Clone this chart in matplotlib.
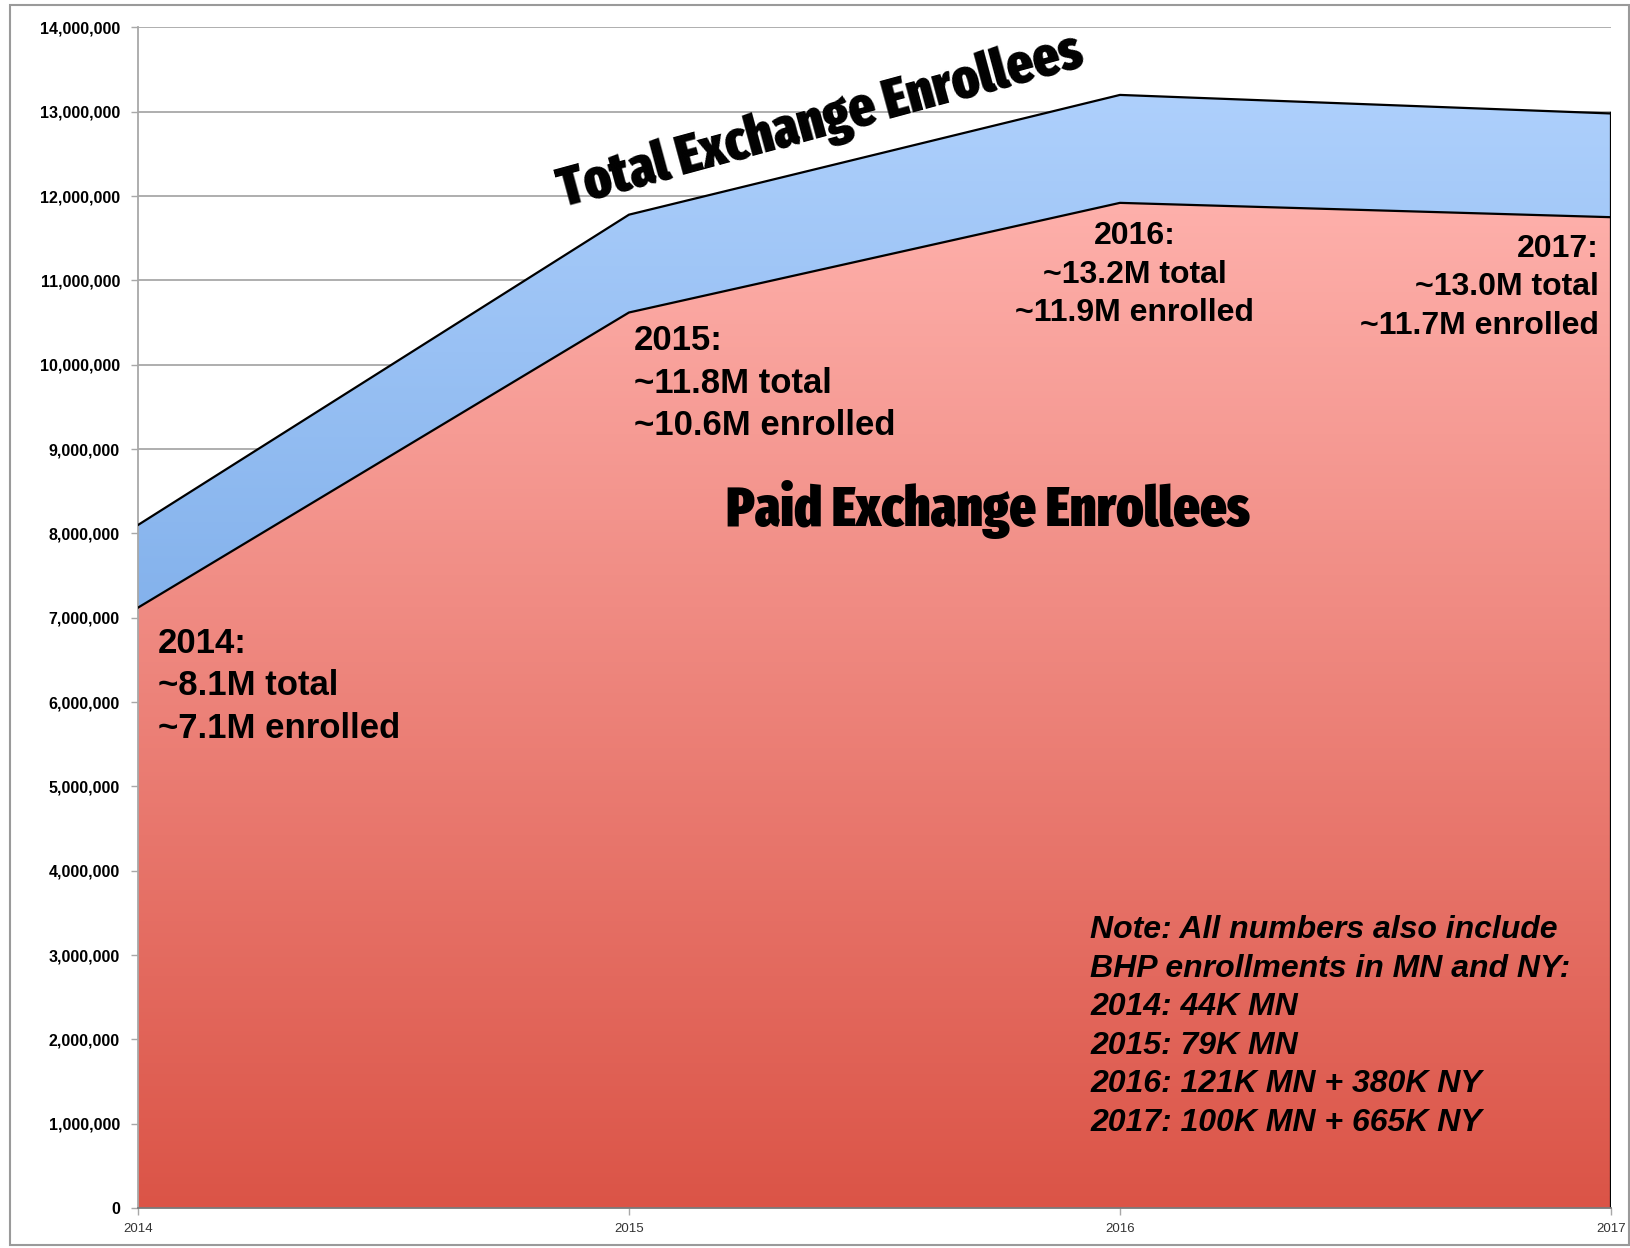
import os
import numpy as np
import matplotlib
matplotlib.use("Agg")
import matplotlib.pyplot as plt
from matplotlib import font_manager as fm
from matplotlib.colors import LinearSegmentedColormap
from matplotlib.patches import Rectangle
from matplotlib.ticker import StrMethodFormatter

# data
years = [2014, 2015, 2016, 2017]
total_enrollees = [8.1e6, 11.78e6, 13.2e6, 12.98e6]
paid_enrollees = [7.12e6, 10.62e6, 11.92e6, 11.75e6]

year_labels = [
    "2014:\n~8.1M total\n~7.1M enrolled",
    "2015:\n~11.8M total\n~10.6M enrolled",
    "2016:\n~13.2M total\n~11.9M enrolled",
    "2017:\n~13.0M total\n~11.7M enrolled",
]
note_text = ("Note: All numbers also include\n"
             "BHP enrollments in MN and NY:\n"
             "2014: 44K MN\n"
             "2015: 79K MN\n"
             "2016: 121K MN + 380K NY\n"
             "2017: 100K MN + 665K NY")

SANS = ["Liberation Sans", "DejaVu Sans"]


def pick_condensed_font():
    """Find the narrowest heavy font installed (stand-in for Impact)."""
    best, best_key = None, None
    for f in fm.fontManager.ttflist:
        fname = os.path.basename(f.fname).lower()
        st = str(f.stretch).lower()
        if "extracondensed" in fname or "extra-condensed" in st or "ultra" in st:
            rank = 0
        elif "semicondensed" in fname or "semi-condensed" in st:
            rank = 2
        elif "condensed" in fname or "narrow" in fname or "condensed" in st:
            rank = 1
        else:
            continue
        w = f.weight
        if isinstance(w, str):
            w = fm.weight_dict.get(w, 400)
        if w < 700 or "italic" in fname or f.style != "normal":
            continue
        key = (rank, -w)
        if best_key is None or key < best_key:
            best, best_key = f, key
    if best is None:
        return fm.FontProperties(family="DejaVu Sans", weight="bold")
    return fm.FontProperties(fname=best.fname)


heavy = pick_condensed_font()

red_cmap = LinearSegmentedColormap.from_list("red", ["#DB5447", "#FEB0AB"])
blue_cmap = LinearSegmentedColormap.from_list("blue", ["#84B2EC", "#AED0FC"])

fig = plt.figure(figsize=(16.31, 12.48), dpi=100)
ax = fig.add_axes([0.0846, 0.032, 0.9031, 0.946])

ax.set_axisbelow(True)
ax.grid(axis="y", color="#A8A8A8", linewidth=1.3)

# gradient-filled areas, clipped to the filled polygons
blue_poly = ax.fill_between(years, paid_enrollees, total_enrollees,
                            facecolor="none", edgecolor="none")
red_poly = ax.fill_between(years, 0, paid_enrollees,
                           facecolor="none", edgecolor="none")

grad = np.linspace(0, 1, 256).reshape(-1, 1)
im_blue = ax.imshow(grad, extent=[years[0], years[-1], min(paid_enrollees), max(total_enrollees)],
                    origin="lower", aspect="auto", cmap=blue_cmap, zorder=1)
im_blue.set_clip_path(blue_poly.get_paths()[0], ax.transData)
im_red = ax.imshow(grad, extent=[years[0], years[-1], 0, max(paid_enrollees)],
                   origin="lower", aspect="auto", cmap=red_cmap, zorder=1)
im_red.set_clip_path(red_poly.get_paths()[0], ax.transData)

# outlines
ax.plot(years, total_enrollees, color="black", linewidth=1.6, zorder=3)
ax.plot(years, paid_enrollees, color="black", linewidth=1.6, zorder=3)
ax.plot([years[-1], years[-1]], [0, total_enrollees[-1]], color="black", linewidth=1.6, zorder=3)

ax.set_xlim(2014, 2017)
ax.set_ylim(0, 14e6)
ax.set_xticks(years)
ax.set_xticklabels([str(y) for y in years])
ax.set_yticks(np.arange(0, 14.1e6, 1e6))
ax.yaxis.set_major_formatter(StrMethodFormatter("{x:,.0f}"))

for lab in ax.get_yticklabels():
    lab.set_fontfamily(SANS)
    lab.set_fontweight("bold")
    lab.set_fontsize(11.5)
for lab in ax.get_xticklabels():
    lab.set_fontfamily(SANS)
    lab.set_fontsize(9.5)
    lab.set_color("#333333")

ax.tick_params(axis="y", length=5, width=1, color="#A8A8A8", pad=8)
ax.tick_params(axis="x", length=5, width=1, color="#A8A8A8", pad=6)
for side in ["top", "right"]:
    ax.spines[side].set_visible(False)
ax.spines["left"].set_color("#A8A8A8")
ax.spines["left"].set_linewidth(1.3)
ax.spines["bottom"].set_color("#7A7A7A")
ax.spines["bottom"].set_linewidth(1.3)
ax.spines["bottom"].set_zorder(4)

# year annotations
ann = dict(fontfamily=SANS, fontweight="bold", va="top",
           linespacing=1.36, zorder=5)
ax.text(2014.04, 6.89e6, year_labels[0], ha="left", fontsize=25, **ann)
ax.text(2015.01, 10.48e6, year_labels[1], ha="left", fontsize=25, **ann)
ax.text(2016.03, 11.70e6, year_labels[2], ha="center", multialignment="center",
        fontsize=23, **ann)
ax.text(2016.976, 11.55e6, year_labels[3], ha="right", multialignment="right",
        fontsize=23, **ann)

# series labels, sized to the width they take in the reference
paid_label = ax.text(2015.73, 8.28e6, "Paid Exchange Enrollees", fontproperties=heavy,
                     fontsize=40, ha="center", va="center", zorder=5)
total_label = ax.text(2015.39, 12.88e6, "Total Exchange Enrollees", fontproperties=heavy,
                      fontsize=40, ha="center", va="center",
                      rotation_mode="anchor", zorder=5)
renderer = fig.canvas.get_renderer()
for t, target_px in [(paid_label, 523), (total_label, 540)]:
    w = t.get_window_extent(renderer).width
    t.set_fontsize(40 * target_px / w)
total_label.set_rotation(15.2)

ax.text(2015.94, 3.47e6, note_text, fontfamily=SANS, fontweight="bold",
        fontstyle="italic", fontsize=23, ha="left", va="top",
        linespacing=1.37, zorder=5)

# thin gray frame around the whole picture
fig.patches.append(Rectangle((10 / 1631, 3 / 1248), 1619 / 1631, 1240 / 1248,
                             transform=fig.transFigure, fill=False,
                             edgecolor="#9A9A9A", linewidth=1.5))

fig.savefig("out.png", dpi=100)
